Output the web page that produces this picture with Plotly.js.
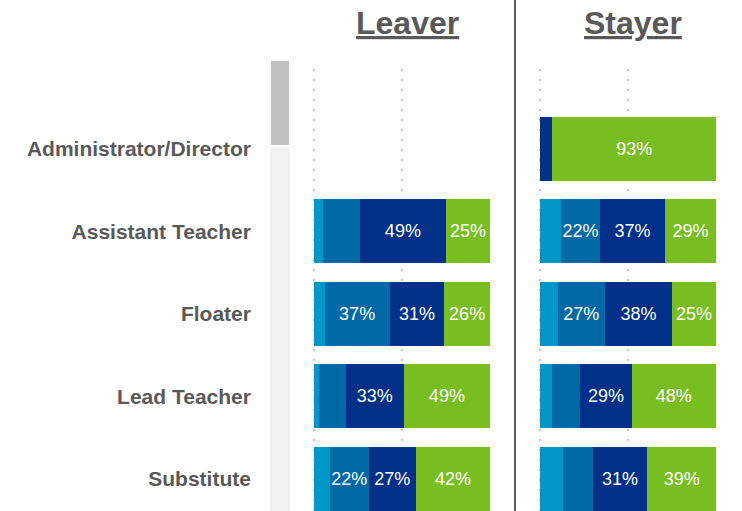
<!DOCTYPE html>
<html>
<head>
<meta charset="utf-8">
<script src="https://cdn.plot.ly/plotly-3.0.1.min.js"></script>
<style>
  html, body { margin: 0; padding: 0; background: #ffffff; }
  #chart { width: 742px; height: 511px; }
</style>
</head>
<body>
<div id="chart"></div>
<script>
// ---- data ----
const roles = ["Administrator/Director", "Assistant Teacher", "Floater", "Lead Teacher", "Substitute"];
const panels = ["Leaver", "Stayer"];
const segmentNames = ["Level 1", "Level 2", "Level 3", "Level 4"];

// Leaver values per segment (order matches roles)
const leaverSeg1 = [null, 5, 6, 3, 9];
const leaverSeg2 = [null, 21, 37, 15, 22];
const leaverSeg3 = [null, 49, 31, 33, 27];
const leaverSeg4 = [null, 25, 26, 49, 42];

// Stayer values per segment
const stayerSeg1 = [0, 12, 10, 7, 13];
const stayerSeg2 = [0, 22, 27, 16, 17];
const stayerSeg3 = [7, 37, 38, 29, 31];
const stayerSeg4 = [93, 29, 25, 48, 39];

const gridTicks = [0, 50];
const segColors = ["#0096c8", "#0069a6", "#003087", "#78be20"];
const LABEL_MIN = 22;

// ---- build traces ----
const FONT = "Liberation Sans, Arial, sans-serif";
function labels(vals) {
  return vals.map(v => (v != null && v >= LABEL_MIN) ? v + "%" : "");
}
const traces = [];
const leaverSets = [leaverSeg1, leaverSeg2, leaverSeg3, leaverSeg4];
const stayerSets = [stayerSeg1, stayerSeg2, stayerSeg3, stayerSeg4];
[leaverSets, stayerSets].forEach((sets, p) => {
  sets.forEach((vals, i) => {
    traces.push({
      type: "bar",
      orientation: "h",
      name: segmentNames[i],
      x: vals,
      y: roles,
      xaxis: p === 0 ? "x" : "x2",
      yaxis: "y",
      marker: { color: segColors[i], line: { width: 0 } },
      text: labels(vals),
      textposition: "inside",
      insidetextanchor: "middle",
      textangle: 0,
      constraintext: "none",
      textfont: { family: FONT, size: 18, color: "#ffffff" },
      hoverinfo: "skip",
      showlegend: false
    });
  });
});

// ---- layout ----
const W = 742, H = 511, T = 69, B = 0;
const plotH = H - T - B;
const px = v => v / W;
const py = v => (H - B - v) / plotH;

// axis range starts slightly below 0 so the 0% gridline is drawn
const XMIN = -0.6;
const xAxisCommon = {
  range: [XMIN, 100],
  tickvals: gridTicks,
  showticklabels: false,
  showgrid: true,
  gridcolor: "#c8c8c8",
  gridwidth: 2,
  griddash: "2px,8px",
  zeroline: false,
  showline: false,
  fixedrange: true
};
const barPx = 176; // pixel length of 100%
const off = -XMIN / 100 * barPx;

const layout = {
  width: W,
  height: H,
  margin: { l: 0, r: 0, t: T, b: B, pad: 0 },
  paper_bgcolor: "#ffffff",
  plot_bgcolor: "rgba(0,0,0,0)",
  barmode: "stack",
  bargap: 0.224,
  showlegend: false,
  font: { family: FONT, color: "#595959" },
  xaxis: Object.assign({}, xAxisCommon, { domain: [px(314 - off), px(490)], anchor: "y" }),
  xaxis2: Object.assign({}, xAxisCommon, { domain: [px(540 - off), px(716)], anchor: "y" }),
  yaxis: {
    type: "category",
    categoryorder: "array",
    categoryarray: roles,
    range: [4.39, -0.97],
    showgrid: false,
    zeroline: false,
    showline: false,
    ticks: "",
    ticklabelstandoff: 61,
    tickfont: { family: FONT, size: 21, color: "#595959", weight: "bold" },
    anchor: "x",
    fixedrange: true
  },
  annotations: panels.map((name, i) => ({
    text: "<b><u>" + name + "</u></b>",
    xref: "paper", yref: "paper",
    x: i === 0 ? px(407.5) : px(633),
    y: py(3),
    xanchor: "center", yanchor: "top",
    showarrow: false,
    font: { family: FONT, size: 32, color: "#595959" }
  })),
  shapes: [
    { type: "rect", xref: "paper", yref: "paper", x0: px(270), x1: px(290), y0: -0.02, y1: py(147),
      fillcolor: "#f2f2f2", line: { width: 0 }, layer: "below" },
    { type: "rect", xref: "paper", yref: "paper", x0: px(271), x1: px(289), y0: py(145), y1: py(61),
      fillcolor: "#c1c1c1", line: { width: 0 }, layer: "below" },
    { type: "line", xref: "paper", yref: "paper", x0: px(515), x1: px(515), y0: -0.02, y1: py(0),
      line: { color: "#595959", width: 2 }, layer: "above" }
  ]
};

Plotly.newPlot("chart", traces, layout, { displayModeBar: false, staticPlot: true });
</script>
</body>
</html>
